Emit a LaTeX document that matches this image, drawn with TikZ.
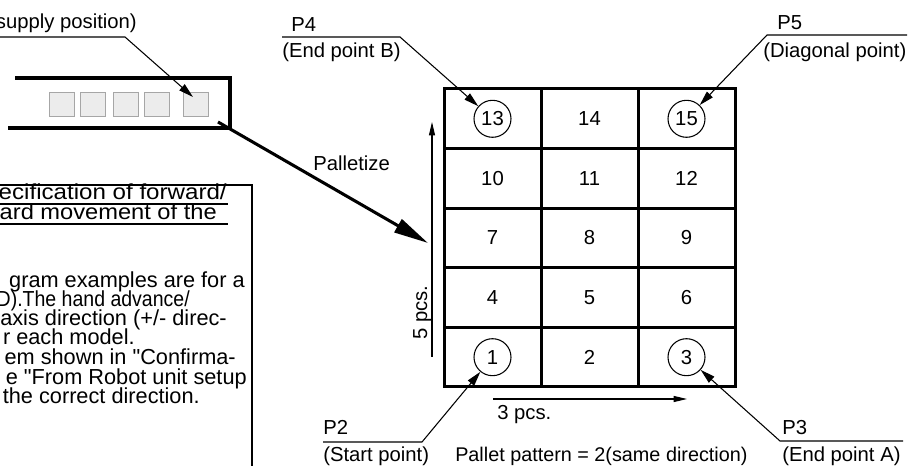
\documentclass[tikz,border=0pt]{standalone}
\usepackage{fontspec}
\setmainfont{Liberation Sans}[Ligatures=TeXOff]
\usetikzlibrary{arrows.meta}
\newcommand{\fitline}[2]{\resizebox{#1pt}{\height}{#2}}
\begin{document}
\begin{tikzpicture}[x=0.75pt,y=-0.75pt,
  lbl/.style={font=\fontsize{15.2}{18}\selectfont, inner sep=0pt, anchor=base west},
  boxtxt/.style={font=\fontsize{16.3}{19}\selectfont, inner sep=0pt, anchor=base east},
  cellnum/.style={font=\fontsize{15.2}{18}\selectfont, inner sep=0pt, anchor=center},
  ring/.style={circle, draw, line width=0.8pt, minimum size=27.75pt, inner sep=0pt, font=\fontsize{15.2}{18}\selectfont},
  lead/.style={line width=0.8pt, -{Triangle[length=11pt,width=6pt]}},
  dimarrow/.style={line width=0.8pt, -{Triangle[length=10pt,width=4.5pt]}},
  heavyarrow/.style={line width=2.3pt, -{Triangle[length=26pt,width=11pt]}},
  heavy/.style={line width=2.6pt},
  gridline/.style={line width=2.25pt},
  wp/.style={draw=gray!70, fill=gray!15, line width=0.75pt, minimum width=18.75pt, minimum height=18pt, inner sep=0pt},
  uline/.style={line width=1pt}
]
\useasboundingbox (0,0) rectangle (910,466);
\clip (0,0) rectangle (910,466);

% conveyor
\draw[heavy] (15,78) -- (230,78) -- (230,128) -- (8,128);
\node[wp] (w1) at (62,105) {};
\node[wp] (w2) at (92.5,105) {};
\node[wp] (w3) at (125.5,105) {};
\node[wp] (w4) at (156.5,105) {};
\node[wp] (w5) at (195.5,105) {};

% supply callout
\node[font=\fontsize{15.2}{18}\selectfont, inner sep=0pt, anchor=base east] (sup) at (137,29) {supply position)};
\coordinate (s0) at (-5,37);
\coordinate (s1) at (125,37);
\coordinate (s2) at (193,97);
\draw[lead] (s0) -- (s1) -- (s2);

% palletize arrow
\coordinate (pa0) at (218,122);
\coordinate (pa1) at (428,243);
\draw[heavyarrow] (pa0) -- (pa1);
\node[lbl] (pal) at (313,171) {Palletize};

% text box
\draw[line width=1.5pt] (-10,185) rectangle (252,490);
\node[boxtxt] (t1) at (227,200) {\fitline{171}{ecification of forward/}};
\node[boxtxt] (t2) at (217,220) {\fitline{162.75}{ard movement of the}};
\coordinate (u1a) at (-5,204); \coordinate (u1b) at (228,204);
\coordinate (u2a) at (-5,224); \coordinate (u2b) at (228,224);
\draw[uline] (u1a) -- (u1b);
\draw[uline] (u2a) -- (u2b);
\node[boxtxt] (t3) at (245,288) {gram examples are for a};
\node[boxtxt] (t4) at (190,307) {\fitline{144.75}{D).The hand advance/}};
\node[boxtxt] (t5) at (227,326) {axis direction (+/- direc-};
\node[boxtxt] (t6) at (135,345) {r each model.};
\node[boxtxt] (t7) at (236,365) {em shown in "Confirma-};
\node[boxtxt] (t8) at (247,384) {e "From Robot unit setup};
\node[boxtxt] (t9) at (200,403) {the correct direction.};

% pallet grid
\draw[gridline] (444,89) rectangle (735,387);
\draw[gridline] (541,89) -- (541,387);
\draw[gridline] (638,89) -- (638,387);
\draw[gridline] (444,148.6) -- (735,148.6);
\draw[gridline] (444,208.2) -- (735,208.2);
\draw[gridline] (444,267.8) -- (735,267.8);
\draw[gridline] (444,327.4) -- (735,327.4);

\node[ring] (c13) at (492.5,118.8) {13};
\node[cellnum] (n14) at (589.5,118.8) {14};
\node[ring] (c15) at (686.5,118.8) {15};
\node[cellnum] (n10) at (492.5,178.4) {10};
\node[cellnum] (n11) at (589.5,178.4) {11};
\node[cellnum] (n12) at (686.5,178.4) {12};
\node[cellnum] (n7) at (492.5,238) {7};
\node[cellnum] (n8) at (589.5,238) {8};
\node[cellnum] (n9) at (686.5,238) {9};
\node[cellnum] (n4) at (492.5,297.6) {4};
\node[cellnum] (n5) at (589.5,297.6) {5};
\node[cellnum] (n6) at (686.5,297.6) {6};
\node[ring] (c1) at (492.5,357.2) {1};
\node[cellnum] (n2) at (589.5,357.2) {2};
\node[ring] (c3) at (686.5,357.2) {3};

% dimension arrows
\coordinate (v0) at (432,357);
\coordinate (v1) at (432,122);
\draw[dimarrow] (v0) -- (v1);
\node[lbl, rotate=90] (five) at (427,340) {5 pcs.};
\coordinate (h0) at (493,399);
\coordinate (h1) at (687,399);
\draw[dimarrow] (h0) -- (h1);
\node[lbl] (three) at (497,419) {3 pcs.};

% callouts
\coordinate (p4a) at (282,37); \coordinate (p4b) at (400,37);
\draw[lead] (p4a) -- (p4b) -- (c13);
\node[lbl] (p4t) at (291,32) {P4};
\node[lbl] (p4s) at (282,58) {(End point B)};

\coordinate (p5a) at (907,35); \coordinate (p5b) at (767,35);
\draw[lead] (p5a) -- (p5b) -- (c15);
\node[lbl] (p5t) at (777,30) {P5};
\node[lbl] (p5s) at (763,58) {(Diagonal point)};

\coordinate (p2a) at (323,442); \coordinate (p2b) at (422,442);
\draw[lead] (p2a) -- (p2b) -- (c1);
\node[lbl] (p2t) at (323,435) {P2};
\node[lbl] (p2s) at (323,461) {(Start point)};

\coordinate (p3a) at (903,441); \coordinate (p3b) at (780,441);
\draw[lead] (p3a) -- (p3b) -- (c3);
\node[lbl] (p3t) at (782,435) {P3};
\node[lbl] (p3s) at (782,461) {(End point A)};

\node[lbl, font=\fontsize{14.85}{18}\selectfont] (patt) at (455,461) {Pallet pattern = 2(same direction)};
\end{tikzpicture}
\end{document}
